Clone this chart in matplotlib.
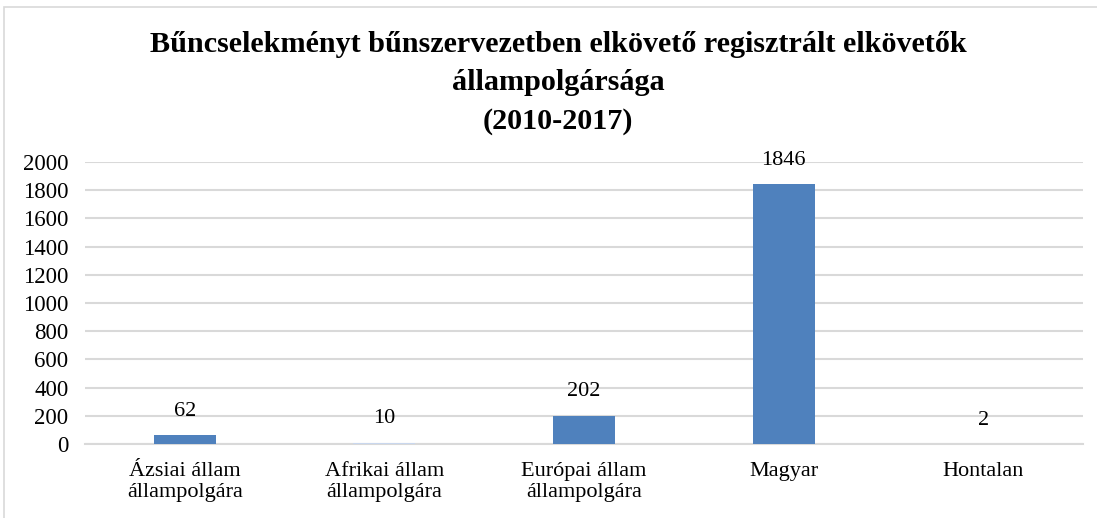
import matplotlib
matplotlib.use('Agg')
import matplotlib.pyplot as plt
from matplotlib.patches import Rectangle
import numpy as np

plt.rcParams.update({
    'font.family': ['Liberation Serif', 'DejaVu Serif'],
    'font.size': 16,
})

categories = ['Ázsiai állam\nállampolgára', 'Afrikai állam\nállampolgára',
              'Európai állam\nállampolgára', 'Magyar', 'Hontalan']
values = [62, 10, 202, 1846, 2]
bar_colors = ['#4F81BD', '#C9D7EE', '#4F81BD', '#4F81BD', '#4F81BD']
yticks = list(range(0, 2001, 200))

W, H = 1097, 518
fig = plt.figure(figsize=(W / 100, H / 100), dpi=100)
ax = fig.add_axes([85 / W, 1 - 444 / H, (1083 - 85) / W, (444 - 162) / H])

x = np.arange(len(categories))
ax.bar(x, values, width=0.31, color=bar_colors, zorder=3)
for xi, v in zip(x, values):
    ax.annotate(str(v), (xi, v), xytext=(0, 17), textcoords='offset points',
                ha='center', va='center', fontsize=16)

ax.set_xlim(-0.5, len(categories) - 0.5)
ax.set_ylim(0, 2000)
ax.set_yticks(yticks)
ax.set_xticks(x)
ax.set_xticklabels(categories, linespacing=1.15, fontsize=16)
ax.tick_params(axis='y', length=0, labelsize=16.5, pad=12)
ax.tick_params(axis='x', length=0, pad=13)
ax.grid(axis='y', color='#D9D9D9', linewidth=1.5, zorder=0)
for s in ['top', 'right', 'left']:
    ax.spines[s].set_visible(False)
ax.spines['bottom'].set_color('#D9D9D9')
ax.spines['bottom'].set_linewidth(1.5)

fig.text(558 / W, 1 - 83 / H,
         'Bűncselekményt bűnszervezetben elkövető regisztrált elkövetők\n'
         'állampolgársága\n(2010-2017)',
         ha='center', va='center', fontsize=21.7, fontweight='bold', linespacing=1.55)

# outer chart frame (top and left visible)
fig.patches.append(Rectangle((4 / W, -0.1), 1.2, 1 - 7 / H + 0.1, transform=fig.transFigure,
                             fill=False, edgecolor='#D9D9D9', linewidth=1.2))

fig.savefig('out.png', dpi=100)
